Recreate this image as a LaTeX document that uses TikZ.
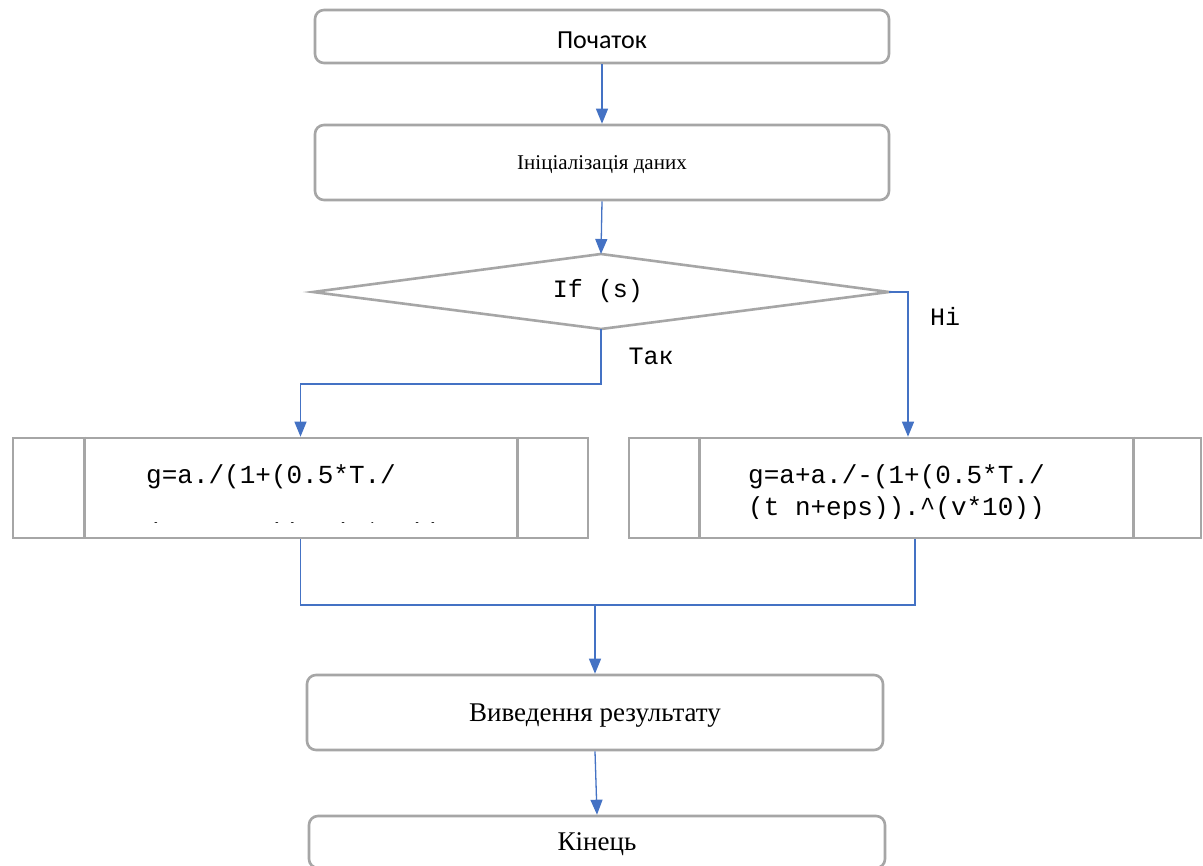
\documentclass[tikz,border=0pt]{standalone}
\usepackage{fontspec}
\setmainfont{Liberation Serif}
\setmonofont{Liberation Mono}
\newfontfamily\calib{Carlito}
\usetikzlibrary{arrows.meta,calc}
\definecolor{boxgray}{HTML}{A6A6A6}
\definecolor{flowblue}{HTML}{4472C4}
% underscore set at Courier's depth, below the baseline
\newcommand\lowscore{\raisebox{-6pt}{\_}}
\tikzset{
  boxline/.style={draw=boxgray, line width=2.6pt},
  term/.style={boxline, rounded corners=9pt, inner sep=0pt},
  proc/.style={boxline, inner sep=0pt},
  link/.style={draw=flowblue, line width=1.3pt},
  flow/.style={link, -{Triangle[length=15pt,width=12pt]}},
  code/.style={font=\ttfamily\fontsize{26}{30}\selectfont, inner sep=0pt, anchor=base west},
  lbl/.style={font=\ttfamily\fontsize{25}{30}\selectfont, inner sep=0pt}
}
\begin{document}
\begin{tikzpicture}[x=1pt,y=-1pt]
\path[use as bounding box, clip] (0,0) rectangle (1203,866);
\fill[white] (0,0) rectangle (1203,866);

% terminators and plain steps (text height/depth set the baseline)
\node[term, minimum width=574pt, minimum height=53pt, text height=25pt, text depth=0pt,
  font=\calib\fontsize{26}{30}\selectfont] (start) at (602,36.5) {Початок};
\node[term, minimum width=574pt, minimum height=75pt, text height=19pt, text depth=4pt,
  font=\fontsize{21}{24}\selectfont] (init) at (602,162.5) {Ініціалізація даних};
\node[term, minimum width=576pt, minimum height=75pt, text height=24pt, text depth=6pt,
  font=\fontsize{27}{32}\selectfont] (out) at (595,712.5) {Виведення результату};
\node[term, minimum width=576pt, minimum height=52pt, text height=20pt, text depth=4pt,
  font=\fontsize{27}{32}\selectfont] (fin) at (597,842) {Кінець};

% decision: corners of the diamond and its text
\coordinate (dt) at (601,254);
\coordinate (dr) at (889,292);
\coordinate (db) at (601,329);
\coordinate (dl) at (313,292);
\draw[boxline, line join=miter] (dt) -- (dr) -- (db) -- (dl) -- cycle;
\node[inner sep=0pt, font=\ttfamily\fontsize{25}{30}\selectfont] (test) at (598,291.5) {If (s)};

% predefined-process boxes
\node[proc, minimum width=575pt, minimum height=100pt] (pl) at (300.5,488) {};
\node[proc, minimum width=572pt, minimum height=100pt] (pr) at (915,488) {};
\draw[boxline] ($(pl.north west)+(73,0)$) -- ($(pl.south west)+(73,0)$);
\draw[boxline] ($(pl.north east)+(-72,0)$) -- ($(pl.south east)+(-72,0)$);
\draw[boxline] ($(pr.north west)+(72,0)$) -- ($(pr.south west)+(72,0)$);
\draw[boxline] ($(pr.north east)+(-69,0)$) -- ($(pr.south east)+(-69,0)$);

% formulas, cut off by the text frame of each box
\begin{scope}
  \clip (88,441) rectangle (514,523);
  \node[code] (pla) at (146,484) {g=a./(1+(0.5*T./};
  \node[code] (plb) at (146,541) {(t\lowscore n+eps)).\textasciicircum(v*10))};
\end{scope}
\begin{scope}
  \clip (703,441) rectangle (1130,519);
  \node[code] (pra) at (748,484) {g=a+a./-(1+(0.5*T./};
  \node[code] (prb) at (748,516) {(t\lowscore n+eps)).\textasciicircum(v*10))};
\end{scope}

% branch labels
\node[lbl] (yes) at (651,356) {Так};
\node[lbl] (no) at (945,316) {Ні};

% connectors
\coordinate (tl) at (601,384);
\coordinate (tr) at (908,292);
\coordinate (mj) at (595,605);
\draw[flow] (start) -- (init);
\draw[flow] (init.south) -- (dt);
\draw[flow] (db) -- (tl) -| (pl.north);
\draw[flow] (dr) -- (tr) -- (tr |- pr.north);
\draw[link] (pl.south) |- (mj);
\draw[link] (pr.south) |- (mj);
\draw[flow] (mj) -- (out.north);
\draw[flow] (out.south) -- (fin.north);
\end{tikzpicture}
\end{document}
